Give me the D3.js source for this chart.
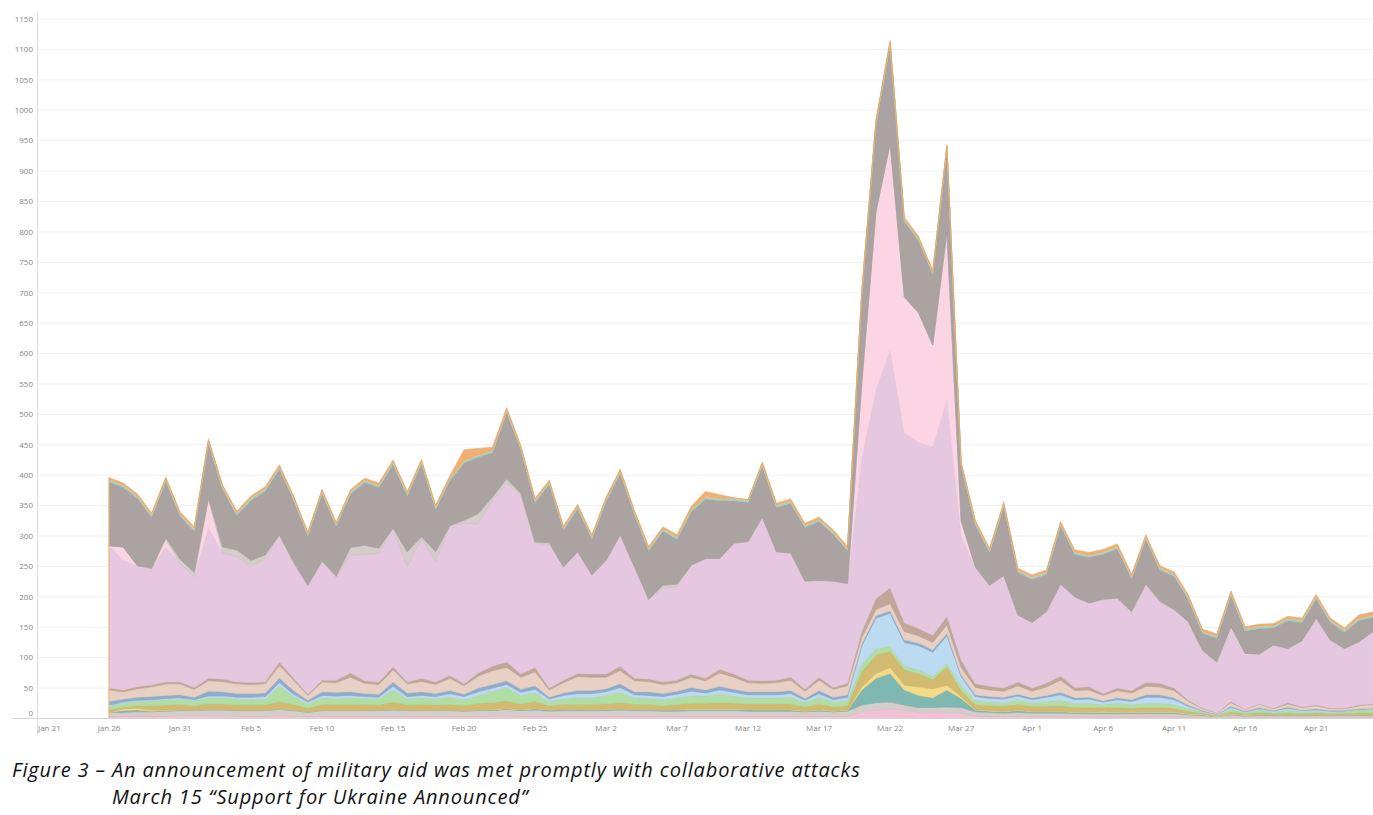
<!DOCTYPE html>
<html>
<head>
<meta charset="utf-8">
<script src="https://cdn.jsdelivr.net/npm/d3@7/dist/d3.min.js"></script>
<style>
  html, body { margin: 0; padding: 0; background: #fff; }
  svg { display: block; }
</style>
</head>
<body>
<svg id="chart" width="1373" height="815"></svg>
<script>
// ---------------- DATA (daily, Jan 26 .. Apr 25) ----------------
const startDate = "2023-01-26";
const endDate = "2023-04-25";
const xTickLabels = ["Jan 21","Jan 26","Jan 31","Feb 5","Feb 10","Feb 15","Feb 20","Feb 25","Mar 2","Mar 7","Mar 12","Mar 17","Mar 22","Mar 27","Apr 1","Apr 6","Apr 11","Apr 16","Apr 21"];
const yTickValues = [0,50,100,150,200,250,300,350,400,450,500,550,600,650,700,750,800,850,900,950,1000,1050,1100,1150];

// series, bottom to top
const pinkLow = [4,4,4,4,4,5,5,5,5,4, 4,4,5,4,3,4,4,4,4,4, 4,4,4,4,4,4,4,4,5,4, 4,4,4,4,4,4,4,4,4,4, 4,4,4,4,4,4,4,4,4,4, 4,4,4,10,14,16,14,10,10,10, 9,4,4,3,4,3,3,3,3,3, 3,3,3,3,3,3,2,2,1,2, 1,2,2,2,2,2,2,2,2,2];
const grayLow = [6,6,7,7,8,8,8,9,9,9, 9,9,10,9,7,9,9,9,9,9, 10,9,9,9,9,8,9,9,10,9, 10,8,9,9,9,9,10,9,9,8, 8,9,9,9,9,8,8,8,8,7, 8,7,8,12,12,11,8,8,8,9, 9,7,6,6,6,6,6,6,5,5, 5,5,5,5,5,5,4,3,2,4, 3,3,3,3,3,3,3,3,3,3];
const tealLow = [0,3,3,1,1,1,1,1,1,1, 1,1,1,1,1,1,1,1,1,1, 1,1,1,1,1,1,1,1,1,1, 2,2,2,2,2,2,2,2,2,2, 2,2,2,2,2,2,2,2,2,1, 2,1,1,25,40,47,25,20,16,28, 15,3,2,2,3,2,2,2,2,2, 2,2,2,2,2,2,1,1,0,1, 1,1,1,1,1,1,1,1,1,1];
const yellowLow = [0,3,3,2,1,1,0,0,0,0, 0,0,0,0,0,0,0,0,0,0, 0,0,0,0,0,0,1,1,1,1, 1,0,0,0,0,0,0,0,0,0, 1,1,1,1,1,1,1,1,1,1, 1,1,1,5,8,10,8,14,15,8, 3,1,1,1,1,1,1,1,1,1, 2,1,1,1,1,1,1,1,1,1, 1,1,0,0,0,0,0,0,0,0];
const gold = [4,3,4,7,8,8,7,9,9,8, 8,8,12,9,6,9,9,9,9,8, 12,8,9,8,9,8,10,11,12,9, 11,7,8,8,8,9,10,8,8,7, 8,9,9,10,9,9,9,9,9,6, 9,6,7,25,30,27,25,22,15,30, 10,8,8,8,9,8,8,9,7,7, 6,7,6,7,7,6,4,2,1,3, 2,3,2,3,2,3,2,2,3,3];
const green = [6,6,7,8,9,9,8,10,10,10, 9,10,25,13,7,11,10,11,10,10, 20,10,11,10,12,10,13,18,22,14, 14,7,9,11,11,14,17,11,10,10, 11,12,12,14,12,10,10,10,11,7, 11,8,9,12,10,8,6,6,5,6, 8,7,6,6,8,6,8,9,7,7, 5,8,6,7,7,6,4,2,1,4, 2,4,2,5,3,3,2,3,5,6];
const lightBlue = [2,2,2,2,2,2,2,3,3,3, 4,4,6,4,3,4,4,4,3,3, 6,4,4,4,6,5,6,6,5,5, 6,4,6,7,7,6,8,5,5,5, 6,8,5,7,6,5,5,5,6,4, 6,4,5,30,51,54,39,40,40,45, 15,6,6,6,6,5,7,9,6,7, 4,5,5,10,10,8,4,1,1,3, 1,2,2,3,2,2,2,1,1,1];
const steelBlue = [6,5,5,5,5,5,4,8,7,6, 6,6,8,6,3,6,6,6,5,5, 7,6,6,5,5,4,6,6,6,5, 6,3,4,5,5,5,6,5,6,5, 5,6,5,6,5,5,5,5,5,3, 5,4,4,4,4,4,4,4,4,4, 3,3,3,3,3,3,3,4,3,3, 2,3,3,4,4,3,2,1,0,2, 1,2,1,2,1,2,1,1,1,1];
const peach = [19,12,14,16,19,18,13,17,17,16, 15,15,20,17,8,16,16,24,17,16, 20,15,17,15,20,14,20,23,22,20, 23,12,17,23,22,19,22,18,17,15, 14,17,15,22,20,15,14,15,17,12, 17,13,15,10,10,12,14,12,12,14, 12,12,11,10,14,11,14,20,12,12, 9,12,11,14,13,12,6,3,2,6, 3,5,3,5,4,5,3,3,5,6];
const brown = [3,3,3,3,3,3,3,4,4,3, 3,3,6,3,2,3,4,7,4,4, 5,3,5,4,5,3,5,7,9,5, 7,3,4,5,5,5,7,4,4,4, 4,5,4,6,5,4,4,4,5,3, 5,3,4,10,18,26,14,12,12,14, 12,6,6,5,6,5,6,7,5,5, 3,4,4,6,6,4,2,1,0,2, 0,1,1,2,1,1,1,1,1,1];
const lavender = [234,213,199,192,222,195,182,247,207,206, 190,203,207,189,179,194,169,194,207,212, 228,189,230,198,246,264,245,273,293,294, 204,236,186,200,163,187,216,183,131,154, 154,179,197,182,215,228,269,211,204,178, 159,175,164,283,343,390,312,306,309,356, 204,192,166,185,110,108,118,151,149,138, 155,148,127,162,132,129,129,95,84,123, 92,82,104,89,109,143,112,98,104,119];
const lightPink = [0,22,0,0,12,0,0,49,0,0, 0,0,0,0,0,0,0,0,0,0, 0,0,0,0,0,0,0,0,0,0, 0,0,0,0,0,0,0,0,0,0, 0,0,0,0,0,0,0,0,0,0, 0,0,0,124,293,340,224,213,168,276, 25,0,0,0,0,0,0,0,0,0, 0,0,0,0,0,0,0,0,0,0, 0,0,0,0,0,0,0,0,0,0];
const lightGray = [0,0,0,0,3,7,7,0,10,11, 11,6,2,2,0,2,2,12,16,8, 0,25,3,16,0,5,17,5,8,3, 2,3,0,0,0,0,0,0,0,5, 4,0,0,0,0,0,0,0,0,0, 0,0,0,0,0,0,0,0,0,0, 0,0,0,0,0,0,0,0,0,0, 0,0,3,0,3,0,0,0,0,0, 0,0,0,0,0,0,0,0,0,0];
const darkGray = [105,98,111,84,93,71,68,91,95,57, 99,105,108,102,81,111,82,88,103,100, 105,92,120,70,74,94,93,73,109,72, 65,96,61,71,59,97,101,86,80,89, 74,88,98,95,70,64,84,73,82,88, 97,77,54,146,144,163,124,119,116,137, 90,70,54,114,70,71,61,96,70,75, 74,81,54,74,51,55,37,28,39,52, 37,42,28,46,30,32,29,27,35,23];
const tealTop = [3,3,3,3,3,3,3,3,3,3, 3,3,3,3,3,3,3,3,3,3, 3,3,3,3,3,3,3,3,3,3, 3,3,3,3,3,3,3,3,3,3, 3,3,3,3,3,3,3,3,3,3, 3,3,3,3,3,3,3,3,3,3, 3,3,3,3,3,3,3,3,3,3, 3,3,3,3,3,3,3,3,3,3, 3,3,3,3,3,3,3,3,3,3];
const yellowTop = [1,1,1,1,1,1,1,1,1,1, 1,1,1,1,1,1,1,1,1,1, 1,1,1,1,1,1,1,1,1,1, 1,1,1,1,1,1,1,1,1,1, 1,1,1,1,1,1,1,1,1,1, 1,1,1,1,1,1,1,1,1,1, 1,1,1,1,1,1,1,1,1,1, 1,1,1,1,1,1,1,1,1,1, 1,1,1,1,1,1,1,1,1,1];
const orange = [3,3,3,3,3,3,3,3,3,3, 3,3,3,3,3,3,3,3,3,3, 3,3,3,3,4,18,10,5,4,3, 3,3,3,3,3,3,3,3,3,3, 3,5,8,6,1,1,3,3,3,3, 3,3,3,3,3,3,3,3,3,3, 3,3,3,3,3,3,3,3,3,4, 4,4,3,3,3,3,3,3,3,3, 3,3,3,3,3,3,3,3,5,5];

const seriesNames = ["pinkLow","grayLow","tealLow","yellowLow","gold","green","lightBlue","steelBlue","peach","brown","lavender","lightPink","lightGray","darkGray","tealTop","yellowTop","orange"];
const seriesValues = [pinkLow,grayLow,tealLow,yellowLow,gold,green,lightBlue,steelBlue,peach,brown,lavender,lightPink,lightGray,darkGray,tealTop,yellowTop,orange];
const seriesColors = {
  pinkLow:"#f2c1d3", grayLow:"#d4cdcb", tealLow:"#7fb8b1", yellowLow:"#f5da88",
  gold:"#d2bb70", green:"#b0dea3", lightBlue:"#bddbf0", steelBlue:"#8eadce",
  peach:"#e9d0c5", brown:"#c2a698", lavender:"#e5c7df", lightPink:"#fcd5e4",
  lightGray:"#d4cdcb", darkGray:"#aba3a1", tealTop:"#a2d1cc", yellowTop:"#f4d88a", orange:"#f3ae72"
};

// ---------------- BUILD ----------------
const parseDay = d3.timeParse("%Y-%m-%d");
const dates = d3.timeDay.range(parseDay(startDate), d3.timeDay.offset(parseDay(endDate), 1));
const table = dates.map((date, i) => {
  const row = { date };
  seriesNames.forEach((k, j) => { row[k] = seriesValues[j][i]; });
  return row;
});

const parseTick = d3.timeParse("%b %d %Y");
const tickDates = xTickLabels.map(s => parseTick(s + " 2023"));

const svg = d3.select("#chart");
const x = d3.scaleTime().domain([parseTick("Jan 21 2023"), parseDay(endDate)]).range([38, 1373]);
const y = d3.scaleLinear().domain([0, 1150]).range([718.5, 19]);

// gridlines
svg.append("g").selectAll("line").data(yTickValues.filter(v => v > 0)).join("line")
  .attr("x1", 38).attr("x2", 1373)
  .attr("y1", d => y(d)).attr("y2", d => y(d))
  .attr("stroke", "#f0f0f0").attr("stroke-width", 1);

const stack = d3.stack().keys(seriesNames).order(d3.stackOrderNone).offset(d3.stackOffsetNone);
const layers = stack(table);

const area = d3.area()
  .x(d => x(d.data.date))
  .y0(d => y(d[0]))
  .y1(d => y(d[1]))
  .curve(d3.curveLinear);

svg.append("g").selectAll("path").data(layers).join("path")
  .attr("d", area)
  .attr("fill", d => seriesColors[d.key])
  .attr("stroke", d => d3.color(seriesColors[d.key]).darker(0.15))
  .attr("stroke-width", 0.6);

// left edge line of first date (orange outline)
const last = layers[layers.length - 1];
svg.append("line")
  .attr("x1", x(dates[0])).attr("x2", x(dates[0]))
  .attr("y1", y(0)).attr("y2", y(last[0][1]))
  .attr("stroke", "#f3b27a").attr("stroke-width", 1);

// axes lines
svg.append("line").attr("x1", 12).attr("x2", 1373).attr("y1", 718.5).attr("y2", 718.5)
  .attr("stroke", "#d4d4d4").attr("stroke-width", 1);
svg.append("line").attr("x1", 37.5).attr("x2", 37.5).attr("y1", 12).attr("y2", 736)
  .attr("stroke", "#dcdcdc").attr("stroke-width", 1);

// y labels
svg.append("g").selectAll("text").data(yTickValues).join("text")
  .attr("x", 33)
  .attr("y", d => d === 0 ? y(d) - 5 : y(d))
  .attr("dy", "0.35em")
  .attr("text-anchor", "end")
  .attr("font-family", "'Open Sans', sans-serif")
  .attr("font-size", 8)
  .attr("fill", "#858585")
  .text(d => d);

// x labels
svg.append("g").selectAll("text").data(tickDates).join("text")
  .attr("x", d => x(d))
  .attr("y", 731)
  .attr("text-anchor", (d, i) => i === 0 ? "start" : "middle")
  .attr("font-family", "'Open Sans', sans-serif")
  .attr("font-size", 8)
  .attr("fill", "#858585")
  .text((d, i) => xTickLabels[i]);

// caption
const cap = svg.append("g")
  .attr("font-family", "'Open Sans', sans-serif")
  .attr("font-style", "italic")
  .attr("font-size", 20)
  .attr("letter-spacing", 0.85)
  .attr("fill", "#111");
cap.append("text").attr("x", 12).attr("y", 777)
  .text("Figure 3 \u2013 An announcement of military aid was met promptly with collaborative attacks");
cap.append("text").attr("x", 112).attr("y", 804)
  .text("March 15 \u201cSupport for Ukraine Announced\u201d");
</script>
</body>
</html>
